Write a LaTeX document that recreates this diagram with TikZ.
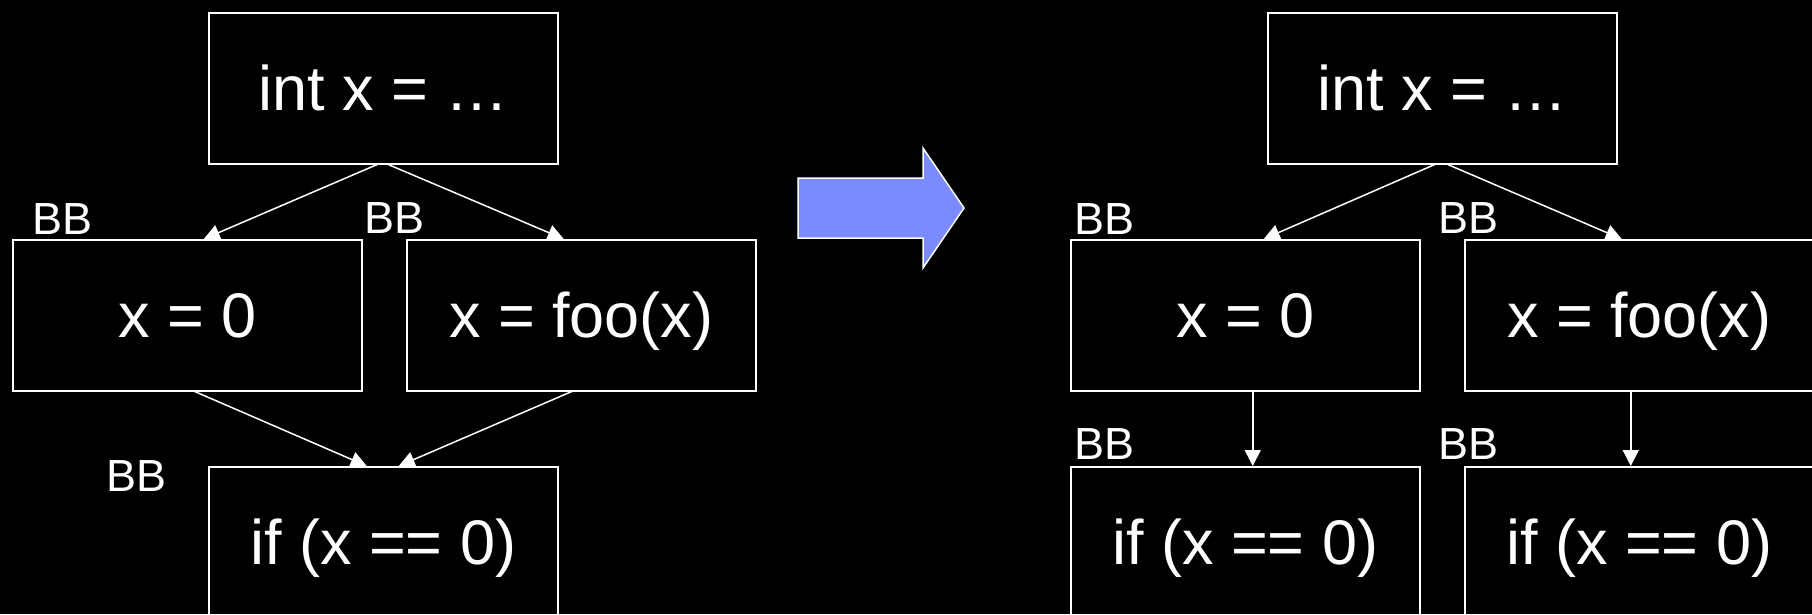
\documentclass[tikz,border=0pt]{standalone}
\usepackage{fontspec}
\setmainfont{Liberation Sans}
\usetikzlibrary{arrows.meta}
\definecolor{arrowblue}{RGB}{122,138,255}
\tikzset{
  bb/.style={draw=white, line width=1.5pt, rectangle, inner sep=0pt,
    minimum width=349pt, minimum height=151pt, anchor=north west,
    text=white, font=\fontsize{63}{75}\selectfont, text height=45pt, text depth=0pt},
  bblabel/.style={anchor=base west, inner sep=0pt, text=white, font=\fontsize{45}{52}\selectfont},
  conn/.style={draw=white, line width=1.5pt, -{Triangle[width=16pt,length=16pt]}},
  blockarrow/.style={fill=arrowblue, draw=white, line width=1.5pt, line join=miter}
}
\begin{document}
\begin{tikzpicture}[x=1pt, y=-1pt]
\useasboundingbox (0,0) rectangle (1812,614);
\fill[black] (0,0) rectangle (1812,614);
\clip (0,0) rectangle (1812,614);
% left diagram
\node[bb] (L0) at (208,12) {int x = …};
\node[bb] (L1) at (12,239) {x = 0};
\node[bb] (L2) at (406,239) {x = foo(x)};
\node[bb] (L3) at (208,466) {if (x == 0)};
\node[bblabel] (bl1) at (32,234) {BB};
\node[bblabel] (bl2) at (364,233) {BB};
\node[bblabel] (bl3) at (106,491) {BB};
\draw[conn] ([xshift=-6pt]L0.south) -- ([xshift=16.5pt]L1.north);
\draw[conn] ([xshift=5pt]L0.south) -- ([xshift=-17.5pt]L2.north);
\draw[conn] ([xshift=7.5pt]L1.south) -- ([xshift=-16.5pt]L3.north);
\draw[conn] ([xshift=-9.5pt]L2.south) -- ([xshift=15.5pt]L3.north);
% block arrow
\draw[blockarrow] (798,178) -- (923,178) -- (923,148) -- (964,208) -- (923,268) -- (923,238) -- (798,238) -- cycle;
% right diagram
\node[bb] (R0) at (1267,12) {int x = …};
\node[bb] (R1) at (1070,239) {x = 0};
\node[bb] (R2) at (1464,239) {x = foo(x)};
\node[bb] (R3) at (1070,466) {if (x == 0)};
\node[bb] (R4) at (1464,466) {if (x == 0)};
\node[bblabel] (br1) at (1074,234) {BB};
\node[bblabel] (br2) at (1438,233) {BB};
\node[bblabel] (br3) at (1074,459) {BB};
\node[bblabel] (br4) at (1438,459) {BB};
\draw[conn] ([xshift=-7.5pt]R0.south) -- ([xshift=18.5pt]R1.north);
\draw[conn] ([xshift=5.5pt]R0.south) -- ([xshift=-17.5pt]R2.north);
\draw[conn] ([xshift=7.5pt]R1.south) -- ([xshift=7.5pt]R3.north);
\draw[conn] ([xshift=-8.5pt]R2.south) -- ([xshift=-8.5pt]R4.north);
\end{tikzpicture}
\end{document}
